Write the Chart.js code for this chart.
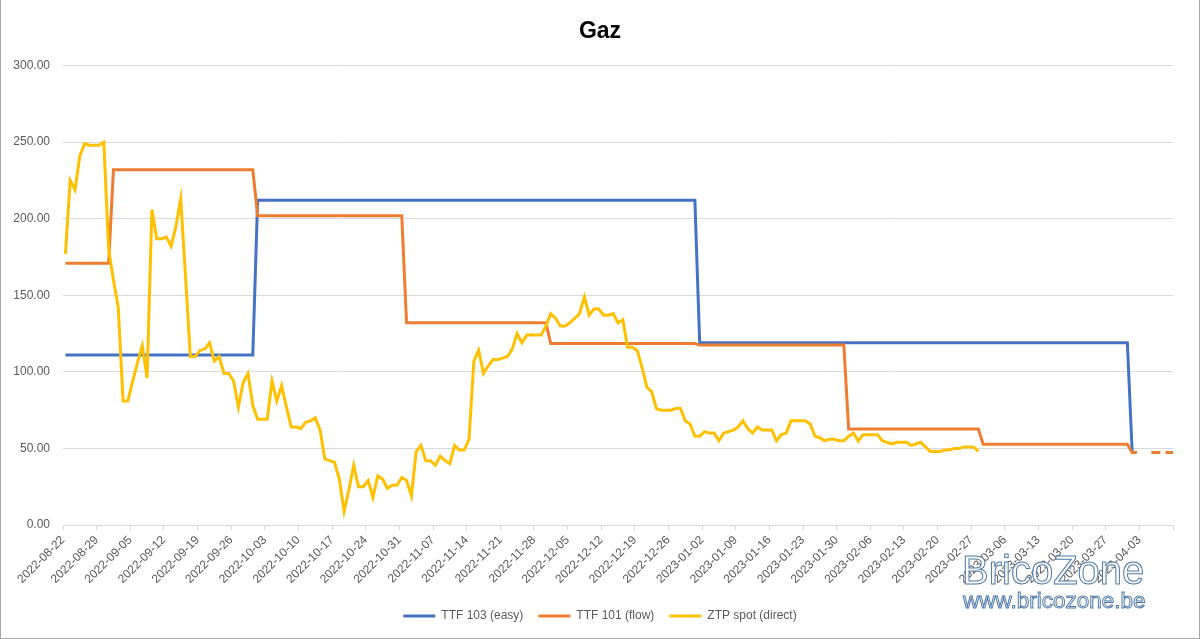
<!DOCTYPE html>
<html>
<head>
<meta charset="utf-8">
<title>Gaz</title>
<script src="https://cdn.jsdelivr.net/npm/chart.js@4.4.1/dist/chart.umd.min.js"></script>
<style>
  html, body { margin: 0; padding: 0; background: #fff; }
  .chart {
    width: 1198px; height: 638px;
    border-left: 1px solid #a6a6a6;
    border-right: 1px solid #a6a6a6;
    border-bottom: 1px solid #a6a6a6;
  }
</style>
</head>
<body>
<div class="chart"><canvas id="gazChart" width="1198" height="638"></canvas></div>
<script>
// day 0 = 2022-08-22, one tick per week
const startDate = Date.UTC(2022, 7, 22);
const lastDay = 231;

const seriesNames = ['TTF 103 (easy)', 'TTF 101 (flow)', 'ZTP spot (direct)'];

// step tariffs: day offsets where the value changes
const ttf103Days = [0, 39, 40, 131, 132, 221, 222];
const ttf103Values = [111, 111, 212, 212, 119, 119, 48];

const ttf101Days = [0, 9, 10, 39, 40, 70, 71, 100, 101, 131, 132, 162, 163, 190, 191, 221, 222, 223, 224, 226, 231];
const ttf101Values = [171, 171, 232, 232, 202, 202, 132, 132, 118.5, 118.5, 117.5, 117.5, 62.7, 62.7, 52.8, 52.8, 47.4, 47.4, null, 47.4, 47.4];
const ttf101DashFrom = 226;

// ZTP spot, one value per day from day 0
const ztpValues = [
  177, 225, 219, 241, 249, 248, 248, 248, 250, 180,
  160, 142, 81, 81, 94, 106, 117, 96, 206, 187,
  187, 188, 182, 195, 213, 162, 110, 110, 114, 115,
  119, 107, 110, 99, 99, 94, 77, 93, 99, 78,
  69, 69, 69, 94, 81, 91, 77, 64, 64, 63,
  67, 68, 70, 62, 43, 42, 41, 30, 9, 23,
  39, 25, 25, 29, 18, 32, 30, 24, 26, 26,
  31, 29, 19, 48, 52, 42, 42, 39, 45, 42,
  40, 52, 49, 49, 56, 107, 114, 99, 104, 108,
  108, 109, 110, 115, 125, 119, 124, 124, 124, 124,
  130, 138, 135, 130, 130, 132, 135, 138, 149, 137,
  141, 141, 137, 137, 138, 132, 134, 116, 116, 114,
  103, 90, 87, 76, 75, 75, 75, 76, 76, 68,
  66, 58, 58, 61, 60, 60, 55, 60, 61, 62,
  64, 68, 63, 60, 64, 62, 62, 62, 55, 59,
  60, 68, 68, 68, 68, 66, 58, 57, 55, 56,
  56, 55, 55, 58, 60, 55, 59, 59, 59, 59,
  55, 54, 53, 54, 54, 54, 52, 53, 54, 51,
  48, 48, 48, 49, 49, 50, 50, 51, 51, 51, 48
];

// points sit in the middle of their day
const toPoints = (days, vals) => days.map((d, i) => ({x: d + 0.5, y: vals[i]}));

function dayLabel(v) {
  if (v >= lastDay) return '';
  return new Date(startDate + v * 86400000).toISOString().slice(0, 10);
}

const watermark = {
  id: 'watermark',
  afterDraw(chart) {
    const ctx = chart.ctx;
    ctx.save();
    ctx.lineWidth = 1;
    ctx.strokeStyle = '#4f79a8';
    ctx.fillStyle = 'rgba(255,255,255,0.9)';
    ctx.font = '40px "Liberation Sans", Arial, sans-serif';
    ctx.fillText('BricoZone', 961, 573);
    ctx.strokeText('BricoZone', 961, 573);
    ctx.font = '22.5px "Liberation Sans", Arial, sans-serif';
    ctx.fillText('www.bricozone.be', 962, 602);
    ctx.strokeText('www.bricozone.be', 962, 602);
    ctx.restore();
  }
};

Chart.defaults.font.family = '"Liberation Sans", Arial, sans-serif';
Chart.defaults.color = '#595959';

new Chart(document.getElementById('gazChart'), {
  type: 'line',
  data: {
    datasets: [
      {
        label: seriesNames[0],
        data: toPoints(ttf103Days, ttf103Values),
        borderColor: '#4472C4',
        backgroundColor: '#4472C4',
        borderWidth: 3,
        order: 2
      },
      {
        label: seriesNames[1],
        data: toPoints(ttf101Days, ttf101Values),
        borderColor: '#ED7D31',
        backgroundColor: '#ED7D31',
        borderWidth: 3,
        order: 1,
        segment: {
          borderDash: ctx => ttf101Days[ctx.p0DataIndex] >= ttf101DashFrom ? [9, 5] : undefined
        }
      },
      {
        label: seriesNames[2],
        data: ztpValues.map((v, i) => ({x: i + 0.5, y: v})),
        borderColor: '#FFC000',
        backgroundColor: '#FFC000',
        borderWidth: 3,
        order: 0
      }
    ]
  },
  options: {
    responsive: false,
    animation: false,
    layout: {padding: {left: 10, right: 10, top: 0, bottom: 6}},
    elements: {
      line: {tension: 0},
      point: {radius: 0, hoverRadius: 0}
    },
    scales: {
      x: {
        type: 'linear',
        min: 0,
        max: lastDay,
        afterFit: s => { s.height = 70; },
        ticks: {
          stepSize: 7,
          autoSkip: false,
          maxRotation: 45,
          minRotation: 45,
          padding: 3,
          font: {size: 12},
          callback: dayLabel
        },
        grid: {
          drawOnChartArea: false,
          drawTicks: true,
          tickLength: 5,
          color: '#d9d9d9'
        },
        border: {color: '#d9d9d9'}
      },
      y: {
        min: 0,
        max: 300,
        afterFit: s => { s.width = 52; },
        ticks: {
          stepSize: 50,
          padding: 13,
          font: {size: 12},
          callback: v => v.toFixed(2)
        },
        grid: {color: '#d9d9d9', drawTicks: false},
        border: {display: false}
      },
      // empty right-hand strip so the plot ends where the original does
      yRight: {
        position: 'right',
        min: 0,
        max: 300,
        afterFit: s => { s.width = 16; },
        ticks: {display: false},
        grid: {display: false},
        border: {display: false}
      }
    },
    plugins: {
      title: {
        display: true,
        text: 'Gaz',
        color: '#000',
        font: {size: 23, weight: 'bold'},
        padding: {top: 18, bottom: 20}
      },
      legend: {
        position: 'bottom',
        labels: {
          usePointStyle: true,
          pointStyle: 'line',
          pointStyleWidth: 32,
          padding: 15,
          font: {size: 12},
          sort: (a, b) => a.datasetIndex - b.datasetIndex
        }
      },
      tooltip: {enabled: false}
    }
  },
  plugins: [watermark]
});
</script>
</body>
</html>
